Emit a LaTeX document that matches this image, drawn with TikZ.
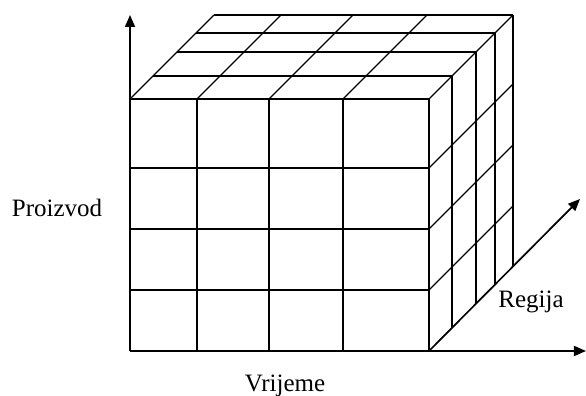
\documentclass[tikz,border=0pt]{standalone}
\usepackage{fontspec}
\setmainfont{Liberation Serif}
\usepackage{tkz-euclide}
\usetikzlibrary{arrows.meta}

\begin{document}
\begin{tikzpicture}[
    x=0.5pt, y=-0.5pt,
    grid/.style={line width=0.55pt},
    axis/.style={line width=0.85pt, -{Triangle[length=6pt,width=5pt]}},
    lbl/.style={font=\fontsize{12.5}{15}\selectfont, anchor=base, inner sep=0pt}]
    % 边界
    \useasboundingbox (0,0) rectangle (586,396);
    % 定义立方体的顶点与坐标轴端点
    \tkzDefPoints{130/351/O, 429/351/X, 130/99/A, 429/99/B, 513/15/C, 214/15/D,
      130/15/Yt, 586/351/Xt, 580/199/Zt}
    % 前面网格
    \foreach \x in {197,269,343,429}
      \draw[grid] (\x,99) -- (\x,351);
    \foreach \y in {99,168,229,290}
      \draw[grid] (130,\y) -- (429,\y);
    % 顶面网格
    \foreach \d in {23,47,66,84}
      \draw[grid] (130+\d,99-\d) -- (429+\d,99-\d);
    \foreach \x in {130,197,269,343,429}
      \draw[grid] (\x,99) -- (\x+84,15);
    % 右侧面网格
    \foreach \d in {23,47,66,84}
      \draw[grid] (429+\d,99-\d) -- (429+\d,351-\d);
    \foreach \y in {168,229,290}
      \draw[grid] (429,\y) -- (513,\y-84);
    % 坐标轴
    \draw[axis] (O) -- (Yt);
    \draw[axis] (O) -- (Xt);
    \draw[axis] (X) -- (Zt);
    % 标记坐标轴名称
    \node[lbl] (proizvod) at (57,217) {Proizvod};
    \node[lbl] (vrijeme) at (285,392) {Vrijeme};
    \node[lbl] (regija) at (531,308) {Regija};
\end{tikzpicture}
\end{document}
